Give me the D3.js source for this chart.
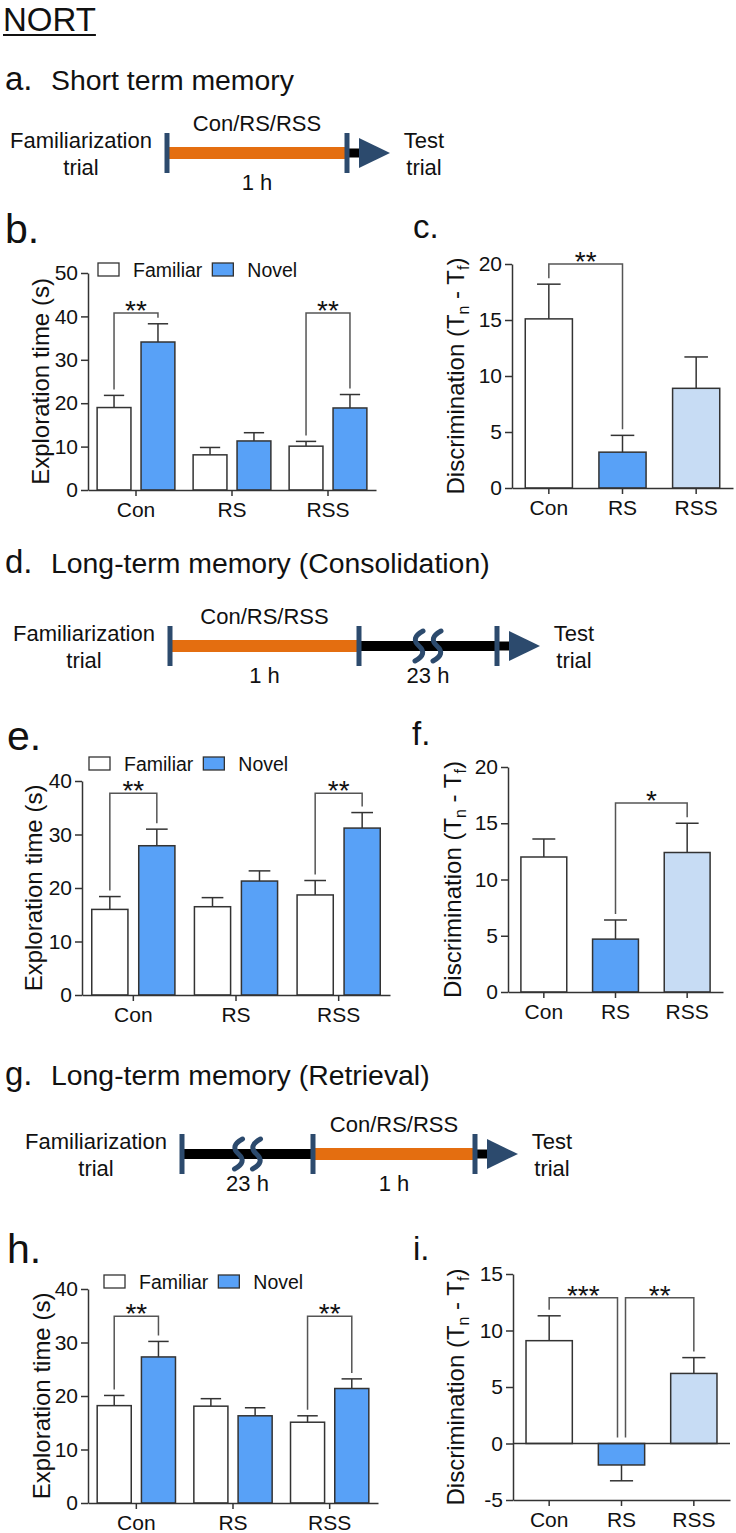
<!DOCTYPE html>
<html>
<head>
<meta charset="utf-8">
<script src="https://cdn.jsdelivr.net/npm/d3@7"></script>
<style>
body{margin:0;background:#fff}
svg{display:block;font-family:"Liberation Sans",Arial,sans-serif}
</style>
</head>
<body>
<svg id="fig" width="736" height="1533"></svg>
<script>
var groups = ["Con", "RS", "RSS"];
var series = ["Familiar", "Novel"];
var ticksB = [0, 10, 20, 30, 40, 50];
var ticks40 = [0, 10, 20, 30, 40];
var ticks20 = [0, 5, 10, 15, 20];
var ticksI = [-5, 0, 5, 10, 15];

// b. short term memory, exploration time (s): mean, SEM
var stmFamiliar = [19.0, 8.1, 10.1];
var stmFamiliarSem = [2.8, 1.7, 1.1];
var stmNovel = [34.1, 11.3, 18.9];
var stmNovelSem = [4.2, 1.9, 3.1];
// c. discrimination
var stmDisc = [15.1, 3.2, 8.9];
var stmDiscSem = [3.1, 1.5, 2.8];
// e. consolidation
var conFamiliar = [16.0, 16.5, 18.7];
var conFamiliarSem = [2.4, 1.7, 2.7];
var conNovel = [27.9, 21.3, 31.2];
var conNovelSem = [3.1, 1.9, 2.9];
// f.
var conDisc = [12.0, 4.7, 12.4];
var conDiscSem = [1.6, 1.7, 2.6];
// h. retrieval
var retFamiliar = [18.2, 18.1, 15.1];
var retFamiliarSem = [1.9, 1.4, 1.2];
var retNovel = [27.3, 16.3, 21.4];
var retNovelSem = [2.9, 1.5, 1.8];
// i.
var retDisc = [9.1, -1.9, 6.2];
var retDiscSem = [2.2, 1.4, 1.4];

// significance brackets (bracket height in axis units)
var stmBrackets = [{a: "Con|Familiar", b: "Con|Novel", y: 40.8, t: "**"},
                   {a: "RSS|Familiar", b: "RSS|Novel", y: 40.8, t: "**"}];
var stmDiscBrackets = [{a: "Con", b: "RS", y: 20, t: "**"}];
var conBrackets = [{a: "Con|Familiar", b: "Con|Novel", y: 37.7, t: "**"},
                   {a: "RSS|Familiar", b: "RSS|Novel", y: 37.7, t: "**"}];
var conDiscBrackets = [{a: "RS", b: "RSS", y: 16.8, t: "*"}];
var retBrackets = [{a: "Con|Familiar", b: "Con|Novel", y: 34.9, t: "**"},
                   {a: "RSS|Familiar", b: "RSS|Novel", y: 34.9, t: "**"}];
var retDiscBrackets = [{a: "Con", b: "RS", y: 12.9, t: "***"},
                       {a: "RS", b: "RSS", y: 12.9, t: "**"}];

// timeline schematics
var tlStm = [{type: "orange", top: "Con/RS/RSS", bottom: "1 h"}];
var tlCon = [{type: "orange", top: "Con/RS/RSS", bottom: "1 h"}, {type: "break", bottom: "23 h"}];
var tlRet = [{type: "break", bottom: "23 h"}, {type: "orange", top: "Con/RS/RSS", bottom: "1 h"}];

var seriesColor = {"Familiar": "#ffffff", "Novel": "#58a1f7"};
var discColor = {"Con": "#ffffff", "RS": "#58a1f7", "RSS": "#c7dcf4"};
var navy = "#2c4a6d";
var ink = "#333";

var svg = d3.select("#fig");
svg.append("rect").attr("width", 736).attr("height", 1533).attr("fill", "#fff");

// title
var nort = svg.append("text").attr("x", 3).attr("y", 31).attr("font-size", 33).attr("fill", "#111").text("NORT");
svg.append("line").attr("x1", 3).attr("x2", 3 + nort.node().getComputedTextLength())
   .attr("y1", 35).attr("y2", 35).attr("stroke", "#111").attr("stroke-width", 2);

function letter(t, x, y, size) {
  svg.append("text").attr("x", x).attr("y", y).attr("font-size", size).attr("fill", "#111").text(t);
}
function heading(l, t, y) {
  letter(l, 5, y, 33);
  svg.append("text").attr("x", 51).attr("y", y).attr("font-size", 28.4).attr("fill", "#111").text(t);
}

function timeline(cy, stops, segs) {
  var g = svg.append("g").attr("font-size", 22).attr("fill", "#111").attr("text-anchor", "middle");
  segs.forEach(function (s, i) {
    var x0 = stops[i], x1 = stops[i + 1], mid = (x0 + x1) / 2;
    if (s.type === "orange") {
      g.append("rect").attr("x", x0).attr("y", cy - 6).attr("width", x1 - x0).attr("height", 12).attr("fill", "#e46e10");
    } else {
      g.append("rect").attr("x", x0).attr("y", cy - 5).attr("width", x1 - x0).attr("height", 10).attr("fill", "#000");
      [-9, 9].forEach(function (dx) {
        var w = mid + dx;
        g.append("path")
         .attr("d", "M" + (w + 4) + "," + (cy - 15) + " Q" + (w - 9) + "," + (cy - 8) + " " + w + "," + cy +
                " Q" + (w + 9) + "," + (cy + 8) + " " + (w - 4) + "," + (cy + 15))
         .attr("fill", "none").attr("stroke", navy).attr("stroke-width", 5).attr("stroke-linecap", "round");
      });
    }
    if (s.top) g.append("text").attr("x", mid).attr("y", cy - 22).text(s.top);
    if (s.bottom) g.append("text").attr("x", mid).attr("y", cy + 37).text(s.bottom);
  });
  var last = stops[stops.length - 1];
  g.append("rect").attr("x", last).attr("y", cy - 4.5).attr("width", 16).attr("height", 9).attr("fill", "#000");
  g.append("path").attr("d", "M" + (last + 12) + "," + (cy - 15) + " L" + (last + 43) + "," + cy + " L" + (last + 12) + "," + (cy + 15) + "Z")
   .attr("fill", navy);
  stops.forEach(function (sx) {
    g.append("rect").attr("x", sx - 2.5).attr("y", cy - 20).attr("width", 5).attr("height", 40).attr("fill", navy);
  });
  g.append("text").attr("x", stops[0] - 86).attr("y", cy - 5).text("Familiarization");
  g.append("text").attr("x", stops[0] - 86).attr("y", cy + 22).text("trial");
  g.append("text").attr("x", last + 77).attr("y", cy - 5).text("Test");
  g.append("text").attr("x", last + 77).attr("y", cy + 22).text("trial");
}

function chart(o) {
  var g = svg.append("g");
  var x = d3.scaleBand().domain(groups).range([o.left, o.right]);
  var y = d3.scaleLinear().domain(o.domain).range([o.bottom, o.top]);
  var xs = d3.scaleBand().domain(series).range([-0.405 * x.step(), 0.405 * x.step()]).paddingInner(0.23);
  var bw = o.grouped ? xs.bandwidth() : x.bandwidth() * 0.64;
  var cap = o.grouped ? bw * 0.6 : bw * 0.5;
  var rows = [];
  groups.forEach(function (c, i) {
    if (o.grouped) {
      rows.push({key: c + "|Familiar", c: c, s: "Familiar", v: o.fam[i], e: o.famSem[i]});
      rows.push({key: c + "|Novel", c: c, s: "Novel", v: o.nov[i], e: o.novSem[i]});
    } else {
      rows.push({key: c, c: c, v: o.vals[i], e: o.sems[i]});
    }
  });
  rows.forEach(function (d) {
    d.cx = x(d.c) + x.bandwidth() / 2 + (o.grouped ? xs(d.s) + xs.bandwidth() / 2 : 0);
    d.fill = o.grouped ? seriesColor[d.s] : discColor[d.c];
    d.end = d.v + (d.v < 0 ? -d.e : d.e);
  });
  var byKey = {};
  rows.forEach(function (d) { byKey[d.key] = d; });

  g.selectAll("line.err").data(rows).join("line")
   .attr("x1", function (d) { return d.cx; }).attr("x2", function (d) { return d.cx; })
   .attr("y1", function (d) { return y(d.v); }).attr("y2", function (d) { return y(d.end); })
   .attr("stroke", ink).attr("stroke-width", 1.5);
  g.selectAll("line.cap").data(rows).join("line")
   .attr("x1", function (d) { return d.cx - cap / 2; }).attr("x2", function (d) { return d.cx + cap / 2; })
   .attr("y1", function (d) { return y(d.end); }).attr("y2", function (d) { return y(d.end); })
   .attr("stroke", ink).attr("stroke-width", 1.5);
  g.selectAll("rect.bar").data(rows).join("rect")
   .attr("x", function (d) { return d.cx - bw / 2; }).attr("width", bw)
   .attr("y", function (d) { return Math.min(y(d.v), y(0)); })
   .attr("height", function (d) { return Math.abs(y(d.v) - y(0)); })
   .attr("fill", function (d) { return d.fill; }).attr("stroke", ink).attr("stroke-width", 1.5);

  if (o.domain[0] < 0) {
    g.append("line").attr("x1", o.left).attr("x2", o.right).attr("y1", y(0)).attr("y2", y(0))
     .attr("stroke", ink).attr("stroke-width", 1.5);
  }

  var ya = g.append("g").attr("transform", "translate(" + o.left + ",0)")
    .call(d3.axisLeft(y).tickValues(o.ticks).tickFormat(function (d) { return String(d); })
          .tickSize(7).tickPadding(3).tickSizeOuter(0));
  var xa = g.append("g").attr("transform", "translate(0," + y(o.domain[0]) + ")")
    .call(d3.axisBottom(x).tickSize(6).tickPadding(6).tickSizeOuter(0));
  [ya, xa].forEach(function (a) {
    a.attr("font-family", null).attr("font-size", 21);
    a.selectAll("path,line").attr("stroke", ink).attr("stroke-width", 1.5);
    a.selectAll("text").attr("fill", "#111");
  });

  // brackets
  var uses = {};
  o.brackets.forEach(function (b) { uses[b.a] = (uses[b.a] || 0) + 1; uses[b.b] = (uses[b.b] || 0) + 1; });
  o.brackets.forEach(function (b) {
    var A = byKey[b.a], B = byKey[b.b];
    var xa1 = A.cx + (uses[b.a] > 1 ? 4 : 0), xb1 = B.cx - (uses[b.b] > 1 ? 4 : 0);
    var ly = y(b.y);
    var la = y(Math.max(0, A.end, A.v)) - 6, lb = y(Math.max(0, B.end, B.v)) - 6;
    g.append("path").attr("d", "M" + xa1 + "," + la + " V" + ly + " H" + xb1 + " V" + lb)
     .attr("fill", "none").attr("stroke", "#555").attr("stroke-width", 1.5);
    g.append("text").attr("x", (xa1 + xb1) / 2).attr("y", ly + 7).attr("text-anchor", "middle")
     .attr("font-size", 28).attr("fill", "#111").text(b.t);
  });

  // y label
  var lab = g.append("text").attr("text-anchor", "middle").attr("font-size", 24).attr("fill", "#111")
    .attr("transform", "translate(" + (o.left - o.labelGap) + "," + ((o.top + o.bottom) / 2) + ") rotate(-90)");
  o.label.forEach(function (p) {
    var t = lab.append("tspan").text(p[0]);
    if (p[1]) t.attr("font-size", 16).attr("dy", 5);
    else if (lab.node().childNodes.length > 1) t.attr("dy", -5);
  });

  // legend
  if (o.legend) {
    var lx = o.legend[0], ly0 = o.legend[1];
    series.forEach(function (s) {
      g.append("rect").attr("x", lx).attr("y", ly0).attr("width", 21).attr("height", 13)
       .attr("fill", seriesColor[s]).attr("stroke", ink).attr("stroke-width", 1.3);
      var t = g.append("text").attr("x", lx + 35).attr("y", ly0 + 13.5).attr("font-size", 19.5).attr("fill", "#111").text(s);
      lx = lx + 35 + t.node().getComputedTextLength() + 10;
    });
  }
}

var expLabel = [["Exploration time (s)"]];
var discLabel = [["Discrimination (T"], ["n", 1], [" - T"], ["f", 1], [")"]];

// a
heading("a.", "Short term memory", 90);
timeline(153, [167, 347], tlStm);
// b, c
letter("b.", 5, 243, 41);
chart({grouped: true, left: 88, right: 376, top: 273, bottom: 490, domain: [0, 50], ticks: ticksB,
       fam: stmFamiliar, famSem: stmFamiliarSem, nov: stmNovel, novSem: stmNovelSem,
       brackets: stmBrackets, label: expLabel, labelGap: 39, legend: [98, 263]});
letter("c.", 413, 238, 33);
chart({grouped: false, left: 512, right: 733, top: 264, bottom: 488, domain: [0, 20], ticks: ticks20,
       vals: stmDisc, sems: stmDiscSem, brackets: stmDiscBrackets, label: discLabel, labelGap: 48});

// d
heading("d.", "Long-term memory (Consolidation)", 573);
timeline(646, [170, 359, 497], tlCon);
// e, f
letter("e.", 7, 750, 41);
chart({grouped: true, left: 82, right: 390, top: 781, bottom: 995, domain: [0, 40], ticks: ticks40,
       fam: conFamiliar, famSem: conFamiliarSem, nov: conNovel, novSem: conNovelSem,
       brackets: conBrackets, label: expLabel, labelGap: 40, legend: [89, 757]});
letter("f.", 412, 745, 33);
chart({grouped: false, left: 508, right: 723, top: 767, bottom: 992, domain: [0, 20], ticks: ticks20,
       vals: conDisc, sems: conDiscSem, brackets: conDiscBrackets, label: discLabel, labelGap: 47});

// g
heading("g.", "Long-term memory (Retrieval)", 1085);
timeline(1154, [182, 313, 475], tlRet);
// h, i
letter("h.", 7, 1263, 41);
chart({grouped: true, left: 88, right: 378, top: 1289, bottom: 1503, domain: [0, 40], ticks: ticks40,
       fam: retFamiliar, famSem: retFamiliarSem, nov: retNovel, novSem: retNovelSem,
       brackets: retBrackets, label: expLabel, labelGap: 38, legend: [104, 1275]});
letter("i.", 413, 1260, 33);
chart({grouped: false, left: 513, right: 730, top: 1274, bottom: 1500, domain: [-5, 15], ticks: ticksI,
       vals: retDisc, sems: retDiscSem, brackets: retDiscBrackets, label: discLabel, labelGap: 49});
</script>
</body>
</html>
